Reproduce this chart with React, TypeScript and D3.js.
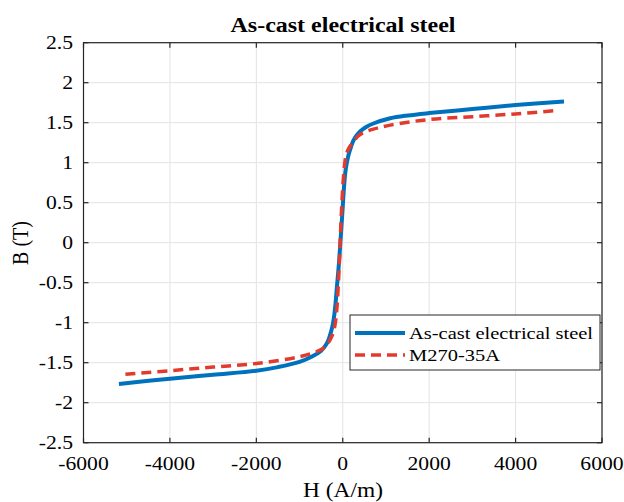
import { curveCatmullRom, line, scaleLinear } from 'd3'

const WIDTH = 624
const HEIGHT = 502
const LEFT = 83.5
const RIGHT = 602
const TOP = 42.7
const BOTTOM = 442.7

const FONT = '"Liberation Serif", "Times New Roman", serif'
const BLUE = '#0072BD'
const RED = '#E23B2E'
// the reference text is a little wider than it is tall
const SX = 1.17

// As-cast electrical steel B-H curve
const castH = [
  -5180, -4000, -3000, -2000, -1500, -1000, -700, -500, -380, -320, -270, -230, -195, -165, -135, -110, -80,
  -55, -30, 0, 30, 60, 95, 135, 180, 240, 320, 400, 550, 710, 1100, 1500, 2000, 3000, 4000, 5120,
]
const castB = [
  -1.765, -1.7, -1.65, -1.6, -1.555, -1.49, -1.42, -1.35, -1.27, -1.2, -1.11, -1.02, -0.9, -0.75, -0.55, -0.4,
  -0.2, 0, 0.2, 0.45, 0.7, 0.88, 1.0, 1.1, 1.18, 1.27, 1.34, 1.39, 1.45, 1.49, 1.555, 1.59, 1.62, 1.67, 1.72,
  1.765,
]

// M270-35A reference curve
const m270H = [
  -5030, -4000, -3000, -2000, -1000, -600, -400, -300, -230, -180, -140, -100, -60, -20, 30, 80, 160, 240, 350,
  475, 710, 1100, 2000, 3000, 4000, 4910,
]
const m270B = [
  -1.645, -1.6, -1.555, -1.51, -1.425, -1.36, -1.3, -1.22, -1.14, -1.03, -0.85, -0.5, 0, 0.5, 0.9, 1.1, 1.2,
  1.25, 1.33, 1.375, 1.42, 1.47, 1.54, 1.575, 1.61, 1.65,
]

const xTicks = [-6000, -4000, -2000, 0, 2000, 4000, 6000]
const yTicks = [-2.5, -2, -1.5, -1, -0.5, 0, 0.5, 1, 1.5, 2, 2.5]

type Pt = [number, number]

function Label(props: { x: number; y: number; size: number; anchor?: string; bold?: boolean; children: string | number }) {
  return (
    <text
      transform={`translate(${props.x},${props.y}) scale(${SX},1)`}
      textAnchor={props.anchor ?? 'start'}
      fontSize={props.size}
      fontWeight={props.bold ? 'bold' : 'normal'}
      fill="#000"
    >
      {props.children}
    </text>
  )
}

export default function App() {
  const x = scaleLinear().domain([-6000, 6000]).range([LEFT, RIGHT])
  const y = scaleLinear().domain([-2.5, 2.5]).range([BOTTOM, TOP])

  const path = line<Pt>()
    .x((d) => x(d[0]))
    .y((d) => y(d[1]))
    .curve(curveCatmullRom.alpha(0.5))

  const cast: Pt[] = castH.map((h, i) => [h, castB[i]])
  const m270: Pt[] = m270H.map((h, i) => [h, m270B[i]])

  const tick = 5
  const lx = 350
  const ly = 315

  return (
    <svg width={WIDTH} height={HEIGHT} style={{ position: 'absolute', left: 0, top: 0 }} fontFamily={FONT}>
      <rect width={WIDTH} height={HEIGHT} fill="#fff" />
      {/* grid */}
      {xTicks.map((t) => (
        <line key={'gx' + t} x1={x(t)} x2={x(t)} y1={TOP} y2={BOTTOM} stroke="#e3e3e3" strokeWidth={1} />
      ))}
      {yTicks.map((t) => (
        <line key={'gy' + t} x1={LEFT} x2={RIGHT} y1={y(t)} y2={y(t)} stroke="#e3e3e3" strokeWidth={1} />
      ))}

      {/* curves */}
      <path d={path(cast) ?? ''} fill="none" stroke={BLUE} strokeWidth={4} strokeLinejoin="round" />
      <path d={path(m270) ?? ''} fill="none" stroke={RED} strokeWidth={3.5} strokeDasharray="10 6" />

      {/* box and ticks */}
      <rect x={LEFT} y={TOP} width={RIGHT - LEFT} height={BOTTOM - TOP} fill="none" stroke="#262626" strokeWidth={1.2} />
      {xTicks.map((t) => (
        <g key={'tx' + t} stroke="#262626" strokeWidth={1.2}>
          <line x1={x(t)} x2={x(t)} y1={BOTTOM} y2={BOTTOM - tick} />
          <line x1={x(t)} x2={x(t)} y1={TOP} y2={TOP + tick} />
        </g>
      ))}
      {yTicks.map((t) => (
        <g key={'ty' + t} stroke="#262626" strokeWidth={1.2}>
          <line x1={LEFT} x2={LEFT + tick} y1={y(t)} y2={y(t)} />
          <line x1={RIGHT} x2={RIGHT - tick} y1={y(t)} y2={y(t)} />
        </g>
      ))}

      {/* tick labels */}
      {xTicks.map((t) => (
        <Label key={'lx' + t} x={x(t)} y={470} size={18.5} anchor="middle">
          {t}
        </Label>
      ))}
      {yTicks.map((t) => (
        <Label key={'ly' + t} x={73} y={y(t) + 6} size={18.5} anchor="end">
          {t}
        </Label>
      ))}

      {/* labels */}
      <Label x={343} y={32} size={20.5} anchor="middle" bold>
        As-cast electrical steel
      </Label>
      <Label x={343} y={497} size={20} anchor="middle">
        H (A/m)
      </Label>
      <text transform={`translate(28,243) scale(${SX},1) rotate(-90)`} textAnchor="middle" fontSize={20}>
        B (T)
      </text>

      {/* legend */}
      <rect x={lx} y={ly} width={250} height={55} fill="#fff" stroke="#262626" strokeWidth={1} />
      <line x1={lx + 5} x2={lx + 55} y1={ly + 18} y2={ly + 18} stroke={BLUE} strokeWidth={4} />
      <line x1={lx + 5} x2={lx + 55} y1={ly + 40} y2={ly + 40} stroke={RED} strokeWidth={3.5} strokeDasharray="10 6" />
      <Label x={lx + 59} y={ly + 24} size={17.5}>
        As-cast electrical steel
      </Label>
      <Label x={lx + 59} y={ly + 46} size={17.5}>
        M270-35A
      </Label>
    </svg>
  )
}
